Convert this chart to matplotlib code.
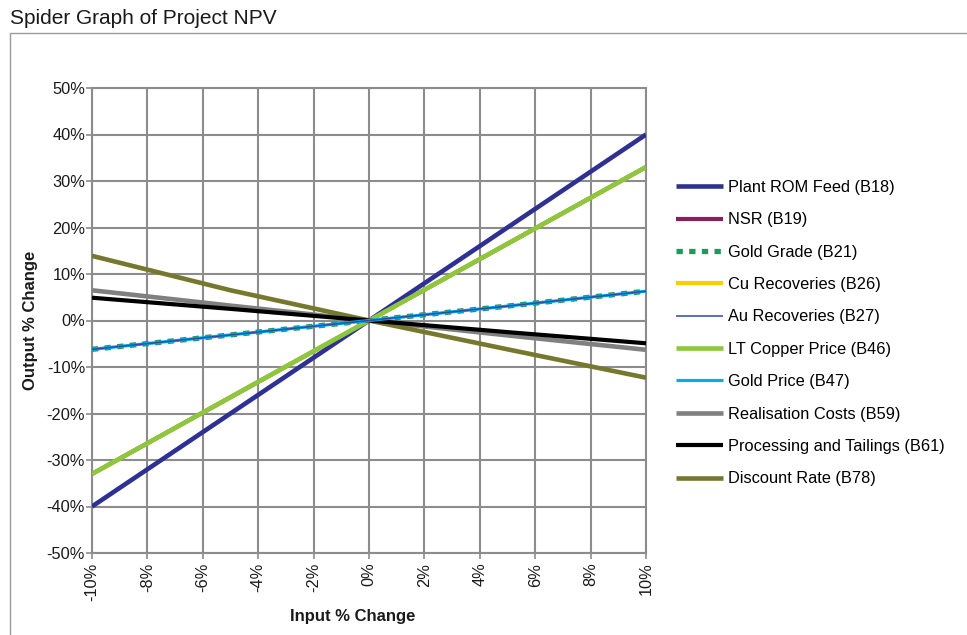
import matplotlib
matplotlib.use("Agg")
import matplotlib.pyplot as plt
from matplotlib.patches import Rectangle
from matplotlib.ticker import FuncFormatter, MultipleLocator

plt.rcParams['font.family'] = ['Liberation Sans', 'DejaVu Sans']

# Sensitivity inputs (% change) and resulting NPV change (%)
input_change = [-10, -5, 0, 5, 10]

plant_rom_feed = [-40.0, -20.0, 0.0, 20.0, 40.0]
nsr = [-33.0, -16.5, 0.0, 16.5, 33.0]
gold_grade = [-6.2, -3.1, 0.0, 3.1, 6.3]
cu_recoveries = [-33.0, -16.5, 0.0, 16.5, 33.0]
au_recoveries = [-6.2, -3.1, 0.0, 3.1, 6.3]
lt_copper_price = [-33.0, -16.5, 0.0, 16.5, 33.0]
gold_price = [-6.2, -3.1, 0.0, 3.1, 6.3]
realisation_costs = [6.5, 3.2, 0.0, -3.2, -6.3]
processing_tailings = [4.9, 2.5, 0.0, -2.5, -4.9]
discount_rate = [13.9, 6.5, 0.0, -6.2, -12.3]

labels = ["Plant ROM Feed (B18)", "NSR (B19)", "Gold Grade (B21)",
          "Cu Recoveries (B26)", "Au Recoveries (B27)", "LT Copper Price (B46)",
          "Gold Price (B47)", "Realisation Costs (B59)",
          "Processing and Tailings (B61)", "Discount Rate (B78)"]

W, H = 967, 635
fig = plt.figure(figsize=(W / 100, H / 100), dpi=100)

def fx(px):
    return px / W

def fy(py):
    return 1 - py / H

# outer chart frame
fig.patches.append(Rectangle((fx(10), -0.1), 1.2, fy(33) + 0.1,
                             transform=fig.transFigure, fill=False,
                             edgecolor='#9a9a9a', linewidth=1.0))
fig.text(fx(10), fy(18.5), "Spider Graph of Project NPV", fontsize=15,
         ha='left', va='center', color='#1a1a1a')

left, right, top, bottom = 92, 646, 88, 553
ax = fig.add_axes([fx(left), fy(bottom), fx(right) - fx(left), fy(top) - fy(bottom)])

grid_c = '#8c8c8c'
ax.set_xlim(-10, 10)
ax.set_ylim(-50, 50)
ax.xaxis.set_major_locator(MultipleLocator(2))
ax.yaxis.set_major_locator(MultipleLocator(10))
pct = FuncFormatter(lambda v, p: f"{v:.0f}%")
ax.xaxis.set_major_formatter(pct)
ax.yaxis.set_major_formatter(pct)
ax.grid(True, color=grid_c, linewidth=1.5)
ax.set_axisbelow(True)
for s in ax.spines.values():
    s.set_color(grid_c)
    s.set_linewidth(1.5)
ax.tick_params(axis='both', colors=grid_c, length=4, width=1.2, labelsize=11.8,
               labelcolor='#1a1a1a')
ax.tick_params(axis='y', pad=1)
ax.tick_params(axis='x', pad=3, labelrotation=90)

series = [
    (plant_rom_feed, dict(color='#2e3192', lw=3.3, zorder=3)),
    (nsr, dict(color='#8b1d5b', lw=3.0, zorder=2)),
    (gold_grade, dict(color='#1f9a5c', lw=3.8, ls=(0, (1.2, 1.2)), zorder=3)),
    (cu_recoveries, dict(color='#ffcc00', lw=3.0, zorder=2)),
    (au_recoveries, dict(color='#2a4ca8', lw=1.1, zorder=6)),
    (lt_copper_price, dict(color='#8dc63f', lw=3.3, zorder=4)),
    (gold_price, dict(color='#00aeef', lw=2.3, zorder=5)),
    (realisation_costs, dict(color='#808080', lw=3.3, zorder=3)),
    (processing_tailings, dict(color='#000000', lw=3.0, zorder=4)),
    (discount_rate, dict(color='#76782d', lw=3.3, zorder=3)),
]
handles = []
for (vals, st), lab in zip(series, labels):
    ln, = ax.plot(input_change, vals, label=lab, solid_capstyle='butt', **st)
    handles.append(ln)

fig.legend(handles=handles, labels=labels, loc='upper left',
           bbox_to_anchor=(fx(676), fy(180)), frameon=False, fontsize=11.8,
           handlelength=2.85, handletextpad=0.3, labelspacing=1.06,
           borderaxespad=0, borderpad=0)

fig.text(fx(353), fy(616), "Input % Change", fontsize=12, fontweight='bold',
         ha='center', va='center', color='#1a1a1a')
fig.text(fx(31), fy(320), "Output % Change", fontsize=12, fontweight='bold',
         ha='center', va='center', rotation=90, color='#1a1a1a')

fig.savefig("out.png", dpi=100)
